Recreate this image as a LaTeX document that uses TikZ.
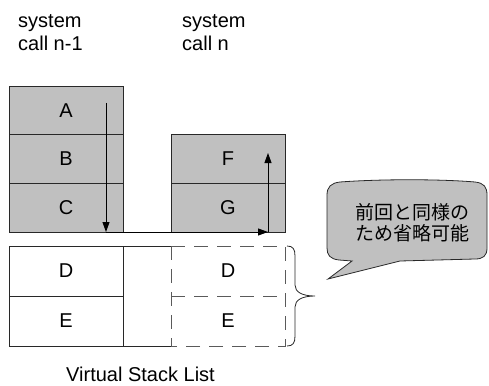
\documentclass[tikz,border=0pt]{standalone}
\usepackage{fontspec}
\setmainfont{Liberation Sans}
\newfontfamily\jpfont{Noto Sans CJK JP}
\usetikzlibrary{arrows.meta}
\definecolor{boxgray}{RGB}{192,192,192}
\definecolor{linegray}{RGB}{40,40,40}
\definecolor{dashgray}{RGB}{90,90,90}
\begin{document}
\begin{tikzpicture}[x=1pt,y=-1pt,
  font=\fontsize{20}{23}\selectfont,
  cell/.style={draw=linegray, line width=0.8pt, minimum width=114pt, inner sep=0pt, outer sep=0pt},
  stackcell/.style={cell, fill=boxgray},
  textcell/.style={minimum width=114pt, inner sep=0pt, outer sep=0pt},
  dashline/.style={draw=dashgray, line width=0.9pt, dash pattern=on 14pt off 9pt},
  flow/.style={line width=0.9pt, -{Triangle[length=10pt,width=7pt]}},
  label/.style={align=left, anchor=north west, inner sep=0pt}]
\useasboundingbox (0,0) rectangle (489,385);

% column titles
\node[label] (t1) at (18,14) {system\\call n-1};
\node[label] (t2) at (182,14) {system\\call n};

% stack of call n-1
\node[stackcell, minimum height=48.67pt] (A) at (66,110.33) {A};
\node[stackcell, minimum height=48.67pt] (B) at (66,159) {B};
\node[stackcell, minimum height=48.67pt] (C) at (66,207.67) {C};

% stack of call n
\node[stackcell, minimum height=48.67pt] (F) at (228,159) {F};
\node[stackcell, minimum height=48.67pt] (G) at (228,207.67) {G};

% virtual stack list
\node[cell, minimum height=50pt] (D1) at (66,271) {D};
\node[cell, minimum height=50pt] (E1) at (66,321) {E};
\node[inner sep=0pt, outer sep=0pt, minimum width=48pt, minimum height=100pt] (gap) at (147,296) {};
\draw[linegray, line width=0.8pt] (gap.north west) -- (gap.north east)
  (gap.south west) -- (gap.south east);
\node[textcell, minimum height=50pt] (D2) at (228,271) {D};
\node[textcell, minimum height=50pt] (E2) at (228,321) {E};
\draw[dashline] (D2.north west) -- (D2.north east) -- (E2.south east) -- (E2.south west);
\draw[dashline] (D2.north west) -- (E2.south west);
\draw[dashline] (D2.south west) -- (D2.south east);

% search path through the stacks
\coordinate (p1) at (106,103);
\coordinate (p2) at (106,232);
\coordinate (p3) at (268,232);
\coordinate (p4) at (268,153);
\draw[flow] (p1) -- (p2);
\draw[line width=0.9pt] (C.south east) -- (G.south west);
\draw[flow] (p2) -- (p3);
\draw[flow] (p3) -- (p4);

% brace grouping the repeated entries
\coordinate (br1) at (287,246);
\coordinate (br2) at (287,346);
\coordinate (brtip) at (315,296);
\draw[linegray, line width=0.8pt] (br1) .. controls (293,246) and (295,249) .. (295,256)
  -- (295,285) .. controls (295,292) and (302,296) .. (brtip)
  .. controls (302,296) and (295,300) .. (295,307)
  -- (295,336) .. controls (295,343) and (293,346) .. (br2);

% callout
\draw[linegray, line width=0.8pt, fill=boxgray]
  (340,182) .. controls (380,179) and (440,179) .. (475,182)
  .. controls (484,183) and (487,187) .. (487,195)
  -- (487,248) .. controls (487,256) and (483,259) .. (475,259)
  -- (400,261) -- (328,279) -- (352,261) -- (339,260)
  .. controls (330,259) and (327,255) .. (327,248)
  -- (327,195) .. controls (327,187) and (331,183) .. (340,182) -- cycle;
\node[align=center, inner sep=0pt, font=\jpfont\fontsize{19}{21}\selectfont] (note) at (412,223)
  {前回と同様の\\ため省略可能};

% caption
\node[anchor=base west, inner sep=0pt, text depth=0pt] (cap) at (66,381) {Virtual Stack List};
\end{tikzpicture}
\end{document}
